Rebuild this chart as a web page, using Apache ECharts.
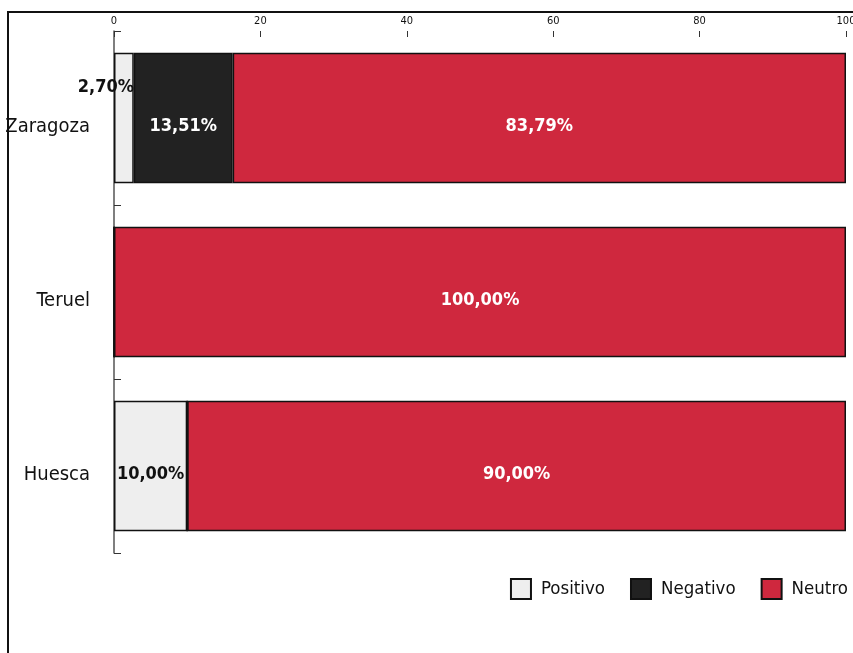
<!DOCTYPE html>
<html><head><meta charset="utf-8">
<script src="https://cdn.jsdelivr.net/npm/echarts@6/dist/echarts.min.js"></script>
<style>html,body{margin:0;padding:0;background:#fff}#c{width:853px;height:653px}</style>
</head><body><div id="c"></div>
<script>
const categories = ['Zaragoza', 'Teruel', 'Huesca'];
const positivo = [2.70, 0, 10.00];
const negativo = [13.51, 0, 0];
const neutro = [83.79, 100.00, 90.00];
const xTicks = [0, 20, 40, 60, 80, 100];

const FONT = '"Liberation Sans Narrow", "DejaVu Sans Condensed", "Roboto Condensed", "Liberation Sans", sans-serif';
const fmt = p => p.value > 0 ? p.value.toFixed(2).replace('.', ',') + '%' : '';

function mkSeries(name, data, color, labelColor) {
  return {
    name, type: 'bar', stack: 'total', barWidth: '75%',
    itemStyle: { color, borderColor: '#111', borderWidth: 1.5 },
    label: { show: true, position: 'inside', formatter: fmt, color: labelColor,
      fontFamily: FONT, fontWeight: 'bold', fontSize: 18, offset: [0, 8] },
    data: data.map((v, i) => {
      if (name === 'Positivo' && i === 0) {
        return { value: v, label: { offset: [-18, -31] } };
      }
      return v;
    })
  };
}

const chart = echarts.init(document.getElementById('c'));
chart.setOption({
  animation: false,
  textStyle: { fontFamily: FONT },
  grid: { left: 114, right: 7, top: 31, bottom: 100, outerBoundsMode: 'none', containLabel: false },
  xAxis: {
    type: 'value', position: 'top', min: 0, max: 100, interval: 20,
    axisLine: { show: false },
    axisTick: { show: true, inside: true, length: 6, lineStyle: { color: '#333' } },
    axisLabel: { color: '#111', fontSize: 11, margin: 4, fontFamily: FONT,
      formatter: v => xTicks.includes(v) ? String(v) : '' },
    splitLine: { show: false }
  },
  yAxis: {
    type: 'category', data: categories, inverse: true,
    axisLine: { show: true, lineStyle: { color: '#555', width: 1.5 } },
    axisTick: { show: true, inside: true, length: 7, lineStyle: { color: '#333' } },
    axisLabel: { color: '#111', fontSize: 20, margin: 24, fontFamily: FONT,
      verticalAlign: 'top', lineHeight: 18 }
  },
  legend: {
    right: 0, top: 573, itemWidth: 20, itemHeight: 20, itemGap: 25,
    icon: 'rect',
    textStyle: { fontSize: 18.5, color: '#111', fontFamily: FONT, padding: [5, 0, 0, 5] },
    data: ['Positivo', 'Negativo', 'Neutro']
  },
  graphic: [{
    type: 'rect', silent: true,
    shape: { x: 8, y: 12, width: 900, height: 700 },
    style: { fill: 'none', stroke: '#111', lineWidth: 2 }
  }],
  series: [
    mkSeries('Positivo', positivo, '#eeeeee', '#111'),
    mkSeries('Negativo', negativo, '#222222', '#fff'),
    mkSeries('Neutro', neutro, '#cf283e', '#fff')
  ]
});
</script></body></html>
